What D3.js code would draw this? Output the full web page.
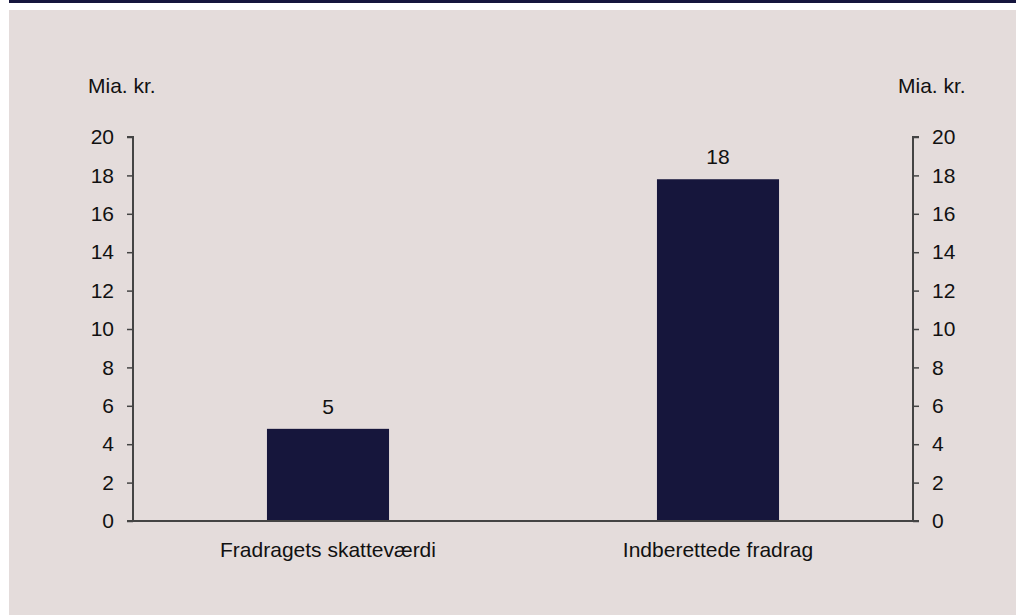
<!DOCTYPE html>
<html><head><meta charset="utf-8">
<script src="https://cdn.jsdelivr.net/npm/d3@7"></script>
<style>html,body{margin:0;padding:0;background:#fff;}svg{display:block;}</style>
</head><body>
<script>
const categories = ["Fradragets skatteværdi", "Indberettede fradrag"];
const values = [4.8, 17.8];
const valueLabels = ["5", "18"];
const tickValues = [0, 2, 4, 6, 8, 10, 12, 14, 16, 18, 20];
const unitLabel = "Mia. kr.";

const W = 1016, H = 615;
const FS = 21;
const svg = d3.select("body").append("svg").attr("width", W).attr("height", H);
const font = "'Liberation Sans', Arial, sans-serif";
svg.append("rect").attr("x", 9).attr("y", 0).attr("width", W - 9).attr("height", 3).attr("fill", "#15153d");
svg.append("rect").attr("x", 9).attr("y", 10).attr("width", W - 9).attr("height", H - 10).attr("fill", "#e4dcdb");

const x0 = 133, x1 = 913, yTop = 137, yBot = 521;
const x = d3.scaleBand().domain(categories).range([x0, x1]).paddingInner(0.687).paddingOuter(0.3435);
const y = d3.scaleLinear().domain([0, 20]).range([yBot, yTop]);

const g = svg.append("g");
g.selectAll("rect.bar").data(values).enter().append("rect")
  .attr("x", (d, i) => x(categories[i])).attr("width", x.bandwidth())
  .attr("y", d => y(d)).attr("height", d => y(0) - y(d)).attr("fill", "#16163c");

g.selectAll("text.val").data(values).enter().append("text")
  .attr("x", (d, i) => x(categories[i]) + x.bandwidth() / 2).attr("y", d => y(d) - 15)
  .attr("text-anchor", "middle").attr("font-family", font).attr("font-size", FS).attr("fill", "#111")
  .text((d, i) => valueLabels[i]);

const axL = d3.axisLeft(y).tickValues(tickValues).tickSize(6).tickPadding(13).tickFormat(d3.format("d"));
const axR = d3.axisRight(y).tickValues(tickValues).tickSize(6).tickPadding(13).tickFormat(d3.format("d"));
function style(sel) {
  sel.select(".domain").attr("stroke", "#444").attr("stroke-width", 2);
  sel.selectAll(".tick line").attr("stroke", "#444").attr("stroke-width", 1.5);
  sel.selectAll(".tick text").attr("font-family", font).attr("font-size", FS).attr("fill", "#111");
}
const gl = svg.append("g").attr("transform", `translate(${x0},0)`).call(axL);
gl.select(".domain").attr("d", `M-6,${yTop}H0V${yBot}`);
style(gl);
const gr = svg.append("g").attr("transform", `translate(${x1},0)`).call(axR);
gr.select(".domain").attr("d", `M6,${yTop}H0V${yBot}`);
style(gr);

svg.append("line").attr("x1", x0 - 6).attr("x2", x1 + 6).attr("y1", y(0)).attr("y2", y(0))
  .attr("stroke", "#444").attr("stroke-width", 2);

const gx = svg.append("g").attr("transform", `translate(0,${yBot})`).call(d3.axisBottom(x).tickSize(0).tickPadding(21));
gx.select(".domain").remove();
gx.selectAll("text").attr("font-family", font).attr("font-size", FS).attr("fill", "#111");

svg.append("text").attr("x", 88).attr("y", 93).attr("font-family", font).attr("font-size", FS).attr("fill", "#111").text(unitLabel);
svg.append("text").attr("x", 898).attr("y", 93).attr("font-family", font).attr("font-size", FS).attr("fill", "#111").text(unitLabel);
</script>
</body></html>
